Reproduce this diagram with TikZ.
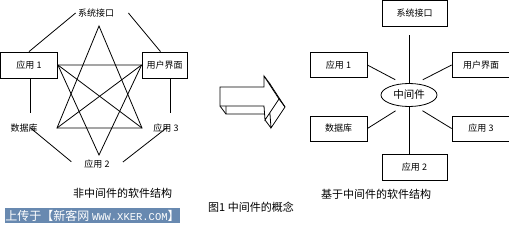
\documentclass[tikz,border=0pt]{standalone}
\usepackage{fontspec}
\setmainfont{Noto Sans CJK SC}
\newfontfamily\markmono{Liberation Mono}
\usetikzlibrary{shapes.geometric}
\definecolor{markblue}{RGB}{104,137,176}
\tikzset{
  box/.style={draw,minimum width=57pt,minimum height=25pt,inner sep=0pt,font=\fontsize{9}{10}\selectfont},
  lbl/.style={inner sep=2pt,font=\fontsize{9}{10}\selectfont},
  captext/.style={inner sep=0pt,font=\fontsize{11}{12}\selectfont},
}

\begin{document}
\begin{tikzpicture}[x=1pt,y=-1pt,line width=0.8pt]
\useasboundingbox (0,0) rectangle (509,228);
\begin{scope}
\node[box,minimum height=26pt] (lapp1) at (29,65) {应用 1};
\node[box,minimum width=45pt,minimum height=26pt] (lui) at (164.5,65) {用户界面};
\node[lbl] (lsys) at (96,13) {系统接口};
\node[lbl] (ldb) at (24,128) {数据库};
\node[lbl] (lapp3) at (166,128) {应用 3};
\node[lbl] (lapp2) at (97,164) {应用 2};
\draw (lsys.west) -- (lapp1.north);
\draw ([xshift=12pt]lsys.east) -- ([xshift=-4pt]lui.north);
\draw[shorten >=8pt] ([xshift=1.5pt]lapp1.south) -- ([xshift=1.5pt]lapp1.south |- ldb.north);
\draw[shorten >=8pt] ([xshift=5.5pt]lui.south) -- ([xshift=5.5pt]lui.south |- lapp3.north);
\draw[shorten >=14pt] ([xshift=6pt,yshift=7pt]ldb.south) -- (lapp2.south west);
\draw[shorten >=14pt] ([xshift=1pt,yshift=7pt]lapp3.south) -- (lapp2.south east);
\coordinate (stop) at (99,26);
\coordinate (sbot) at (99,155);
\coordinate (sll) at (57,128);
\coordinate (slr) at (142,128);
\draw (stop) -- (sll) -- (slr) -- cycle;
\draw (sbot) -- (lapp1.east) -- (lui.west) -- cycle;
\draw (lapp1.east) -- (slr);
\draw (lui.west) -- (sll);
\node[captext] (lcap) at (122.5,193) {非中间件的软件结构};
\end{scope}
\begin{scope}[shift={(6,8)}]
\draw (220,87) -- (264,87) -- (264,76) -- (279,99) -- (265,120) -- (264,106) -- (220,106) -- cycle;
\end{scope}
\draw (220,106) -- ++(6,8) (264,106) -- ++(6,8) (265,120) -- ++(6,8)
  (279,99) -- ++(6,8) (264,76) -- ++(6,8);
\draw[fill=white] (220,87) -- (264,87) -- (264,76) -- (279,99) -- (265,120) -- (264,106) -- (220,106) -- cycle;
\begin{scope}
\node[box,minimum width=65pt,minimum height=26pt] (rsys) at (414.5,13.5) {系统接口};
\node[box] (rapp1) at (338.5,65) {应用 1};
\node[box,minimum width=58pt] (rui) at (481,65) {用户界面};
\node[box] (rdb) at (338.5,128.5) {数据库};
\node[box,minimum width=58pt] (rapp3) at (481,128.5) {应用 3};
\node[box,minimum width=65pt,minimum height=26pt] (rapp2) at (414.5,167) {应用 2};
\node[draw,ellipse,minimum width=56pt,minimum height=23pt,inner sep=0pt,font=\fontsize{10.5}{12}\selectfont] (rmid) at (409,95) {中间件};
\draw[shorten >=8pt] (rmid.north) -- (rmid.north |- rsys.south);
\draw (rmid.south) -- (rmid.south |- rapp2.north);
\draw[shorten >=8pt] (rapp1.east) -- (rmid.120);
\draw[shorten >=8pt] (rui.west) -- (rmid.60);
\draw[shorten >=8pt] (rdb.east) -- (rmid.240);
\draw[shorten >=8pt] (rapp3.west) -- (rmid.300);
\node[captext] (rcap) at (376,194) {基于中间件的软件结构};
\end{scope}
\node[captext] (figcap) at (251,207) {图1 中间件的概念};
\node[fill=markblue,text=white,minimum width=175pt,minimum height=15pt,inner sep=0pt] (mark) at (92.5,215.5)
  {\fontsize{12}{13}\selectfont 上传于【新客网 {\markmono\fontsize{10.5}{11}\selectfont WWW.XKER.COM}】};
\end{tikzpicture}
\end{document}
